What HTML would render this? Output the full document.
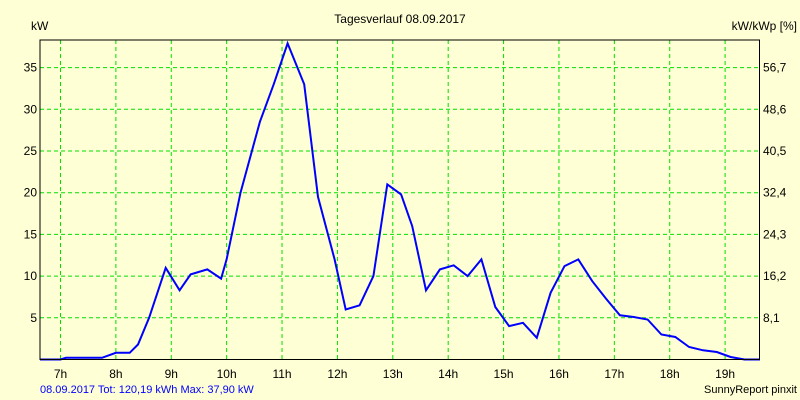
<!DOCTYPE html>
<html><head><meta charset="utf-8"><style>
body{margin:0;background:#FFFFD5;}
svg{display:block;font-family:"Liberation Sans",sans-serif;font-size:12px;}
</style></head><body>
<svg id="chart" width="800" height="400">
<rect x="0" y="0" width="800" height="400" fill="#FFFFD5"/>
<text x="400" y="23" text-anchor="middle" fill="#000">Tagesverlauf 08.09.2017</text>
<text x="31" y="30" fill="#000">kW</text>
<text x="797" y="30" text-anchor="end" fill="#000">kW/kWp [%]</text>
<g id="grid"></g>
<g id="ticks"></g>
<polyline id="line" fill="none" stroke="#0000FF" stroke-width="2"/>
<rect x="40" y="40" width="719.5" height="319.5" fill="none" stroke="#000" stroke-width="1"/>
<text x="40" y="393" fill="#0000FF" font-size="11">08.09.2017 Tot: 120,19 kWh Max: 37,90 kW</text>
<text x="797" y="393" text-anchor="end" fill="#000" font-size="11">SunnyReport pinxit</text>
</svg>
<script>
const hours=[7,8,9,10,11,12,13,14,15,16,17,18,19];
const yTicks=[5,10,15,20,25,30,35];
const yRightLabels=["8,1","16,2","24,3","32,4","40,5","48,6","56,7"];
const times=[6.63,7.0,7.1,7.75,8.0,8.25,8.4,8.6,8.9,9.15,9.35,9.65,9.9,10.0,10.25,10.6,10.85,11.1,11.4,11.65,11.95,12.15,12.4,12.65,12.9,13.15,13.35,13.6,13.85,14.1,14.35,14.6,14.85,15.1,15.35,15.6,15.85,16.1,16.35,16.6,16.85,17.1,17.35,17.6,17.85,18.1,18.35,18.6,18.85,19.1,19.35,19.63];
const power=[0,0,0.2,0.2,0.8,0.8,1.8,5,11,8.3,10.2,10.8,9.7,12,20,28.5,33,37.9,33,19.5,12,6,6.5,10,21,19.8,16,8.3,10.8,11.3,10,12,6.3,4.0,4.4,2.6,8,11.2,12,9.4,7.3,5.3,5.1,4.8,3,2.7,1.5,1.1,0.9,0.3,0,0];
const X=t=>40+(t-6.63)*(720/13);
const Y=v=>359.5-v*(41.7/5);
const NS="http://www.w3.org/2000/svg";
const grid=document.getElementById('grid'),ticks=document.getElementById('ticks');
function mk(tag,attrs,parent){const e=document.createElementNS(NS,tag);for(const k in attrs)e.setAttribute(k,attrs[k]);parent.appendChild(e);return e;}
hours.forEach(h=>{
  const l=mk('line',{x1:X(h),x2:X(h),y1:40,y2:359.5,stroke:'#00E000','stroke-dasharray':'4,3'},grid);
  
  
  const t=mk('text',{x:X(h),y:378,'text-anchor':'middle',fill:'#000'},ticks);
  t.textContent=h+'h';
  
  
});
yTicks.forEach((v,i)=>{
  const l=mk('line',{x1:40,x2:759.5,y1:Y(v),y2:Y(v),stroke:'#00E000','stroke-dasharray':'4,3'},grid);
  
  
  const t=mk('text',{x:37,y:Y(v)+4,'text-anchor':'end',fill:'#000'},ticks);
  t.textContent=v;
  
  
  const r=mk('text',{x:763,y:Y(v)+4,fill:'#000'},ticks);
  r.textContent=yRightLabels[i];
  
  
});
document.getElementById('line').setAttribute('points',times.map((t,i)=>X(t).toFixed(1)+','+Y(power[i]).toFixed(1)).join(' '));
</script>
</body></html>
